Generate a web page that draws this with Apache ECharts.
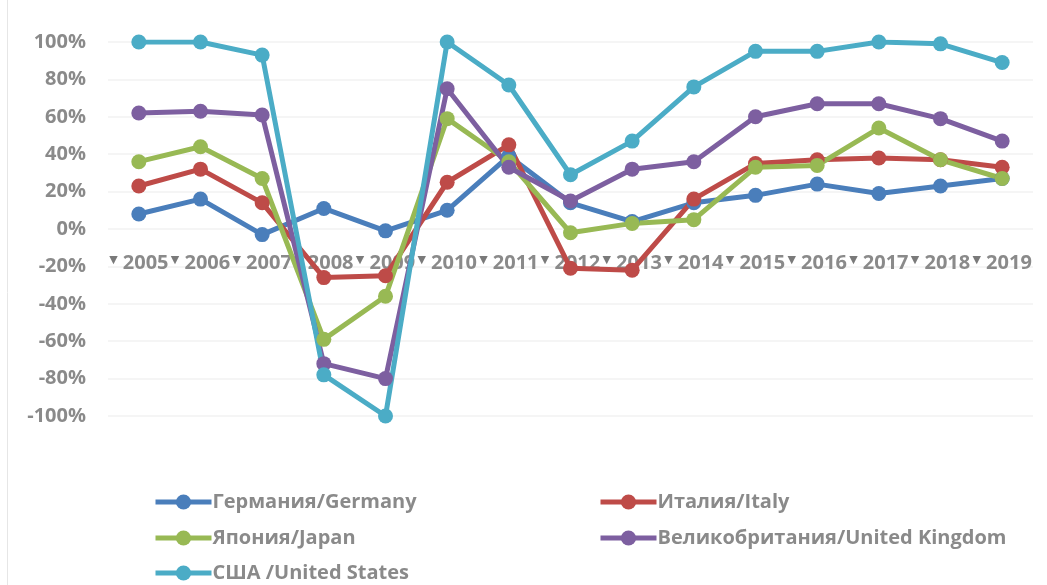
<!DOCTYPE html>
<html><head><meta charset="utf-8">
<script src="https://cdn.jsdelivr.net/npm/echarts@6/dist/echarts.min.js"></script>
<style>html,body{margin:0;padding:0;background:#fff}#c{width:1047px;height:585px}</style>
</head><body><div id="c"></div>
<script>
const years = ['2005','2006','2007','2008','2009','2010','2011','2012','2013','2014','2015','2016','2017','2018','2019'];
const germany = [8, 16, -3, 11, -1, 10, 39, 14, 4, 14, 18, 24, 19, 23, 27];
const italy   = [23, 32, 14, -26, -25, 25, 45, -21, -22, 16, 35, 37, 38, 37, 33];
const japan   = [36, 44, 27, -59, -36, 59, 36, -2, 3, 5, 33, 34, 54, 37, 27];
const uk      = [62, 63, 61, -72, -80, 75, 33, 15, 32, 36, 60, 67, 67, 59, 47];
const usa     = [100, 100, 93, -78, -100, 100, 77, 29, 47, 76, 95, 95, 100, 99, 89];
const names = ['Германия/Germany','Италия/Italy','Япония/Japan','Великобритания/United Kingdom','США /United States'];
const colors = ['#4a7ebb','#be4b48','#98b954','#7d5fa0','#4bacc6'];
const seriesData = [germany, italy, japan, uk, usa];

const FONT = 'Open Sans';
const GRAY = '#8a8a8a';
const chart = echarts.init(document.getElementById('c'));
const legendPos = [[148,487],[593,487],[148,523],[593,523],[148,558]];
chart.setOption({
  animation: false,
  textStyle: {fontFamily: FONT},
  graphic: [{type:'rect', shape:{x:7.5,y:-2,width:1100,height:600}, style:{fill:'none', stroke:'#e6e6e6', lineWidth:1}, silent:true}],
  grid: {left:108, right:14, top:42, height:374},
  legend: names.map((n,i)=>({
    data:[n], left:legendPos[i][0], top:legendPos[i][1], itemWidth:56, itemHeight:19, itemGap:0,
    lineStyle:{width:5},
    textStyle:{fontFamily:FONT, fontWeight:'bold', fontSize:20, color:GRAY, padding:[0,0,0,-4]}
  })),
  xAxis: {
    type:'category', data:years, boundaryGap:true, position:'bottom', offset:-187,
    axisLine:{show:false}, axisTick:{show:false},
    axisLabel:{interval:0, margin:24, formatter: v => '{t|▼} ' + v, color:GRAY, fontFamily:FONT, fontWeight:'bold', fontSize:20,
      rich:{t:{fontSize:11, fontFamily:'DejaVu Sans', color:'#7a7a7a', padding:[0,0,6,0]}}}
  },
  yAxis: {
    type:'value', min:-100, max:100, interval:20,
    axisLabel:{formatter:'{value}%', margin:22, color:GRAY, fontFamily:FONT, fontWeight:'bold', fontSize:20},
    splitLine:{lineStyle:{color:'#f2f2f2', width:1.5}},
    axisLine:{show:false}, axisTick:{show:false}
  },
  series: seriesData.map((d,i)=>({
    name:names[i], type:'line', data:d, symbol:'circle', symbolSize:15,
    lineStyle:{width:5, color:colors[i]}, itemStyle:{color:colors[i]}
  }))
});
</script></body></html>
